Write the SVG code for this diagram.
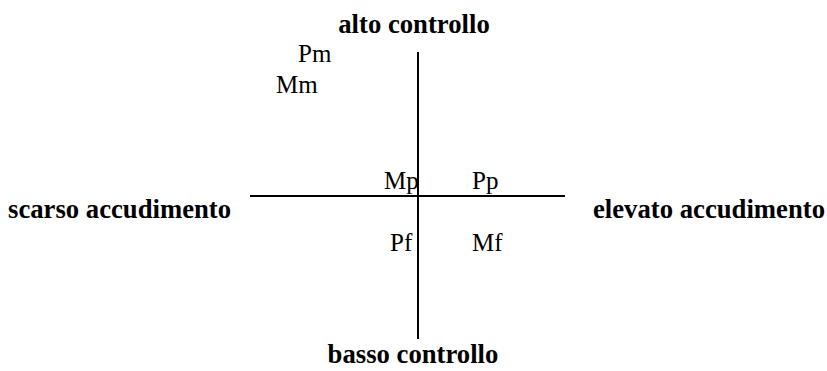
<svg xmlns="http://www.w3.org/2000/svg" width="827" height="371" viewBox="0 0 827 371">
<style>
.b{font-family:"Liberation Serif","Times New Roman",serif;font-weight:bold;font-size:26.7px;fill:#000}
.r{font-family:"Liberation Serif","Times New Roman",serif;font-size:25px;fill:#000}
.ax{stroke:#000;stroke-width:2;fill:none}
</style>
<rect width="827" height="371" fill="#fff"/>
<g id="axes">
<line class="ax" x1="418" y1="52" x2="418" y2="339"/>
<line class="ax" x1="250" y1="196" x2="565" y2="196"/>
</g>
<g id="alto"><text class="b" x="414" y="33" text-anchor="middle">alto controllo</text></g>
<g id="basso"><text class="b" x="413" y="363" text-anchor="middle">basso controllo</text></g>
<g id="scarso"><text class="b" x="8" y="218">scarso accudimento</text></g>
<g id="elevato"><text class="b" x="593" y="218">elevato accudimento</text></g>
<g id="Pm"><text class="r" x="298" y="62">Pm</text></g>
<g id="Mm"><text class="r" x="276" y="93">Mm</text></g>
<g id="Mp"><text class="r" x="384" y="189">Mp</text></g>
<g id="Pp"><text class="r" x="472" y="189">Pp</text></g>
<g id="Pf"><text class="r" x="390" y="251">Pf</text></g>
<g id="Mf"><text class="r" x="472" y="251">Mf</text></g>
</svg>
